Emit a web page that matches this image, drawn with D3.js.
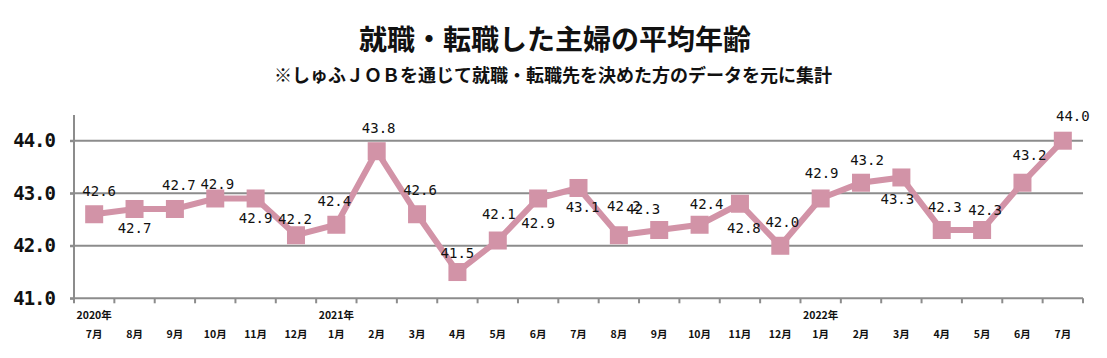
<!DOCTYPE html>
<html>
<head>
<meta charset="utf-8">
<script src="https://cdn.jsdelivr.net/npm/d3@7"></script>
<style>
  html, body { margin: 0; padding: 0; background: #fff; }
  svg { display: block; }
</style>
</head>
<body>
<svg id="chart" width="1107" height="358"></svg>
<script>
const title = "就職・転職した主婦の平均年齢";
const subtitle = "※しゅふＪＯＢを通じて就職・転職先を決めた方のデータを元に集計";

const categories = ["2020-07","2020-08","2020-09","2020-10","2020-11","2020-12",
  "2021-01","2021-02","2021-03","2021-04","2021-05","2021-06","2021-07","2021-08",
  "2021-09","2021-10","2021-11","2021-12","2022-01","2022-02","2022-03","2022-04",
  "2022-05","2022-06","2022-07"];
const monthLabels = ["7月","8月","9月","10月","11月","12月","1月","2月","3月","4月","5月","6月",
  "7月","8月","9月","10月","11月","12月","1月","2月","3月","4月","5月","6月","7月"];
const yearLabels = ["2020年","","","","","","2021年","","","","","","","","","","","",
  "2022年","","","","","",""];
const values = [42.6, 42.7, 42.7, 42.9, 42.9, 42.2, 42.4, 43.8, 42.6, 41.5, 42.1, 42.9,
  43.1, 42.2, 42.3, 42.4, 42.8, 42.0, 42.9, 43.2, 43.3, 42.3, 42.3, 43.2, 44.0];
const yTicks = [41, 42, 43, 44];

// label placement offsets (layout only)
const labelOffsets = [[5,-23],[0,19],[4,-24],[2,-14],[0,20],[-1,-16],[-2,-24],[2,-23],
  [3,-24],[0,-19],[1,-27],[0,25],[4,19],[5,-29],[-16,-21],[7,-21],[4,24],[2,-24],
  [1,-25],[6,-23],[-4,22],[3,-23],[3,-20],[7,-28],[10,-25]];

const svg = d3.select("#chart");
const lineColor = "#d293a7";
const gridColor = "#8c8c8c";

const x = d3.scaleBand().domain(categories).range([74, 1083]);
const y = d3.scaleLinear().domain([41, 44]).range([298.3, 140.7]);
const cx = c => x(c) + x.bandwidth() / 2;

// title
svg.append("text").attr("x", 555).attr("y", 50).attr("text-anchor", "middle")
  .attr("font-family", "'Noto Sans CJK JP', sans-serif").attr("font-weight", 700)
  .attr("font-size", 28).attr("fill", "#111").text(title);
svg.append("text").attr("x", 553).attr("y", 82).attr("text-anchor", "middle")
  .attr("font-family", "'Noto Sans CJK JP', sans-serif").attr("font-weight", 700)
  .attr("font-size", 18).attr("fill", "#111").text(subtitle);

// gridlines
svg.append("g").selectAll("line").data(yTicks.filter(d => d > 41)).join("line")
  .attr("x1", 70).attr("x2", 1083)
  .attr("y1", d => y(d)).attr("y2", d => y(d))
  .attr("stroke", gridColor).attr("stroke-width", 2);

// y axis
const yAxis = svg.append("g").attr("transform", "translate(74,0)")
  .call(d3.axisLeft(y).tickValues(yTicks).tickFormat(d3.format(".1f"))
    .tickSize(4).tickPadding(15).tickSizeOuter(0));
yAxis.select(".domain").remove();
yAxis.selectAll(".tick line").attr("stroke", gridColor).attr("stroke-width", 2);
yAxis.selectAll(".tick text")
  .attr("font-family", "'DejaVu Sans Mono', monospace").attr("font-weight", 700)
  .attr("font-size", 19).attr("letter-spacing", -1).attr("fill", "#111");
svg.append("line").attr("x1", 74).attr("x2", 74).attr("y1", 115).attr("y2", y(41))
  .attr("stroke", gridColor).attr("stroke-width", 2);

// x axis
svg.append("line").attr("x1", 70).attr("x2", 1083).attr("y1", y(41)).attr("y2", y(41))
  .attr("stroke", gridColor).attr("stroke-width", 2);
const boundaries = categories.map(c => x(c)).concat([x.range()[1]]);
svg.append("g").selectAll("line").data(boundaries).join("line")
  .attr("x1", d => d).attr("x2", d => d)
  .attr("y1", y(41)).attr("y2", y(41) + 5)
  .attr("stroke", gridColor).attr("stroke-width", 2);

svg.append("g").selectAll("text").data(categories).join("text")
  .attr("x", cx).attr("y", 333).attr("dominant-baseline", "central")
  .attr("text-anchor", "middle")
  .attr("font-family", "'Noto Sans CJK JP', sans-serif").attr("font-weight", 700)
  .attr("font-size", 10.5).attr("fill", "#111")
  .text((d, i) => monthLabels[i]);
svg.append("g").selectAll("text").data(categories).join("text")
  .attr("x", cx).attr("y", 314).attr("dominant-baseline", "central")
  .attr("text-anchor", "middle")
  .attr("font-family", "'Noto Sans CJK JP', sans-serif").attr("font-weight", 700)
  .attr("font-size", 10.5).attr("fill", "#111")
  .text((d, i) => yearLabels[i]);

// line
const line = d3.line().x((d, i) => cx(categories[i])).y(d => y(d));
svg.append("path").datum(values).attr("d", line)
  .attr("fill", "none").attr("stroke", lineColor).attr("stroke-width", 6);

// markers
const ms = 18;
svg.append("g").selectAll("rect").data(values).join("rect")
  .attr("x", (d, i) => cx(categories[i]) - ms / 2)
  .attr("y", d => y(d) - ms / 2)
  .attr("width", ms).attr("height", ms).attr("fill", lineColor);

// data labels
svg.append("g").selectAll("text").data(values).join("text")
  .attr("x", (d, i) => cx(categories[i]) + labelOffsets[i][0])
  .attr("y", (d, i) => y(d) + labelOffsets[i][1])
  .attr("dominant-baseline", "central").attr("text-anchor", "middle")
  .attr("font-family", "'DejaVu Sans Mono', monospace")
  .attr("font-size", 14).attr("fill", "#111")
  .text(d => d3.format(".1f")(d));
</script>
</body>
</html>
